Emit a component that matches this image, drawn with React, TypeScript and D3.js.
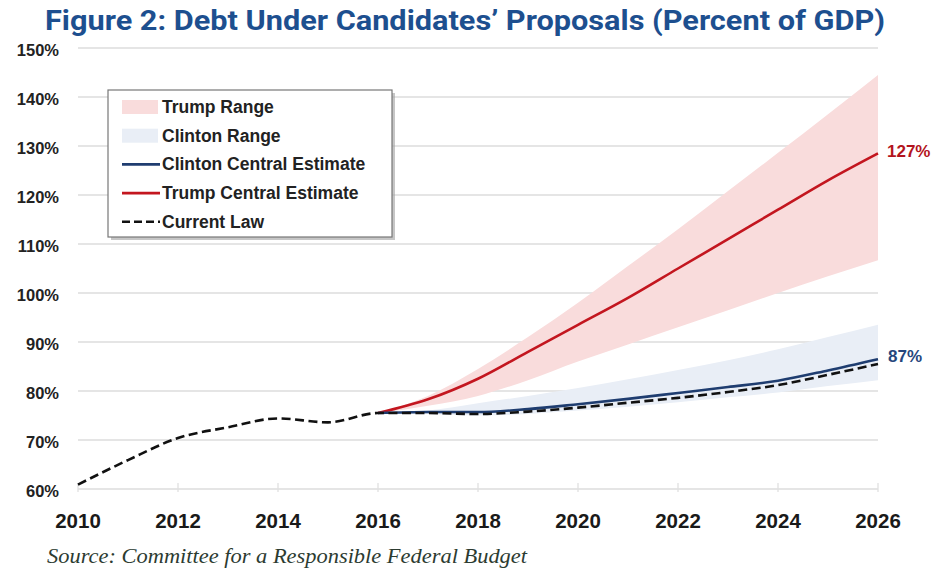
import React from "react";
import * as d3 from "d3";

const histYears = [2010, 2011, 2012, 2013, 2014, 2015, 2016];
const histDebt = [60.9, 65.9, 70.4, 72.6, 74.4, 73.6, 75.5];

const projYears = [2016, 2017, 2018, 2019, 2020, 2021, 2022, 2023, 2024, 2025, 2026];
const currentLaw = [75.5, 75.5, 75.3, 75.8, 76.6, 77.6, 78.6, 79.8, 81.2, 83.3, 85.5];
const clintonCentral = [75.5, 75.7, 75.7, 76.3, 77.3, 78.4, 79.6, 80.8, 82.1, 84.2, 86.5];
const clintonLow = [75.5, 75.3, 75.0, 75.3, 76.0, 76.8, 77.7, 78.7, 79.7, 81.0, 82.2];
const clintonHigh = [75.5, 76.0, 77.5, 79.0, 80.6, 82.4, 84.3, 86.3, 88.5, 91.0, 93.5];
const trumpCentral = [75.5, 78.3, 82.5, 88.0, 93.5, 99.0, 105.0, 111.0, 117.0, 123.0, 128.5];
const trumpLow = [75.5, 77.0, 79.0, 82.2, 86.0, 89.5, 93.0, 96.5, 100.0, 103.4, 106.7];
const trumpHigh = [75.5, 79.0, 84.5, 91.0, 98.0, 105.5, 113.0, 120.8, 128.6, 136.5, 144.5];

const xTicks = [2010, 2012, 2014, 2016, 2018, 2020, 2022, 2024, 2026];
const yTicks = [60, 70, 80, 90, 100, 110, 120, 130, 140, 150];

const legendItems = [
  { label: "Trump Range", kind: "band", color: "#f9dcdc" },
  { label: "Clinton Range", kind: "band", color: "#e9eef6" },
  { label: "Clinton Central Estimate", kind: "line", color: "#1f3d70" },
  { label: "Trump Central Estimate", kind: "line", color: "#c3161f" },
  { label: "Current Law", kind: "dash", color: "#111" },
];

const W = 936;
const H = 573;

export default function App() {
  const x = d3.scaleLinear().domain([2010, 2026]).range([78, 878]);
  const y = d3.scaleLinear().domain([60, 150]).range([489, 48]);

  const line = d3
    .line<[number, number]>()
    .x((d) => x(d[0]))
    .y((d) => y(d[1]))
    .curve(d3.curveMonotoneX);

  const area = d3
    .area<[number, number, number]>()
    .x((d) => x(d[0]))
    .y0((d) => y(d[1]))
    .y1((d) => y(d[2]))
    .curve(d3.curveMonotoneX);

  const zip2 = (a: number[], b: number[]) => a.map((v, i) => [v, b[i]] as [number, number]);
  const zip3 = (a: number[], b: number[], c: number[]) =>
    a.map((v, i) => [v, b[i], c[i]] as [number, number, number]);

  const dashedData = [...zip2(histYears, histDebt), ...zip2(projYears, currentLaw).slice(1)];

  const boldFont = "'Liberation Sans', Arial, sans-serif";

  return (
    <svg
      width={W}
      height={H}
      style={{ position: "absolute", left: 0, top: 0, background: "#fff" }}
    >
      <rect width={W} height={H} fill="#fff" />
      <text
        x={465}
        y={30}
        textAnchor="middle"
        fontFamily="Roboto, sans-serif"
        fontWeight={700}
        fontSize={27}
        fill="#1d4f8f"
        textLength={840}
        lengthAdjust="spacingAndGlyphs"
      >
        Figure 2: Debt Under Candidates’ Proposals (Percent of GDP)
      </text>

      {yTicks.map((t) => (
        <g key={t}>
          <line x1={78} x2={878} y1={y(t)} y2={y(t)} stroke="#dcdcdc" strokeWidth={1.5} />
          <text
            x={59}
            y={y(t) + 8}
            textAnchor="end"
            fontFamily={boldFont}
            fontWeight={700}
            fontSize={16.5}
            fill="#222"
          >
            {t}%
          </text>
        </g>
      ))}

      {xTicks.map((t) => (
        <g key={t}>
          <line x1={x(t)} x2={x(t)} y1={483} y2={492} stroke="#e0e0e0" strokeWidth={1.3} />
          <text
            x={x(t)}
            y={528}
            textAnchor="middle"
            fontFamily={boldFont}
            fontWeight={700}
            fontSize={20.5}
            fill="#1a1a1a"
          >
            {t}
          </text>
        </g>
      ))}

      <path d={area(zip3(projYears, trumpLow, trumpHigh)) || ""} fill="#f9dcdc" />
      <path d={area(zip3(projYears, clintonLow, clintonHigh)) || ""} fill="#e9eef6" />

      <path
        d={line(zip2(projYears, trumpCentral)) || ""}
        fill="none"
        stroke="#c3161f"
        strokeWidth={2.6}
      />
      <path
        d={line(zip2(projYears, clintonCentral)) || ""}
        fill="none"
        stroke="#1f3d70"
        strokeWidth={2.6}
      />
      <path
        d={line(dashedData) || ""}
        fill="none"
        stroke="#111"
        strokeWidth={2.6}
        strokeDasharray="9,4.5"
      />

      <text
        x={887}
        y={157}
        fontFamily={boldFont}
        fontWeight={700}
        fontSize={17}
        fill="#b3141d"
      >
        127%
      </text>
      <text
        x={888}
        y={362}
        fontFamily={boldFont}
        fontWeight={700}
        fontSize={17}
        fill="#26477d"
      >
        87%
      </text>

      <g>
        <rect x={111} y={93} width={284} height={147} fill="#a0a0a0" opacity={0.6} />
        <rect x={108} y={90} width={284} height={147} fill="#fff" stroke="#777" strokeWidth={1.2} />
        {legendItems.map((it, i) => {
          const cy = 107 + i * 28.7;
          return (
            <g key={it.label}>
              {it.kind === "band" && (
                <rect x={122} y={cy - 7} width={36} height={14} fill={it.color} />
              )}
              {it.kind === "line" && (
                <line x1={122} x2={160} y1={cy} y2={cy} stroke={it.color} strokeWidth={2.6} />
              )}
              {it.kind === "dash" && (
                <line
                  x1={122}
                  x2={160}
                  y1={cy}
                  y2={cy}
                  stroke={it.color}
                  strokeWidth={2.6}
                  strokeDasharray="8,4"
                />
              )}
              <text
                x={162}
                y={cy + 6}
                fontFamily={boldFont}
                fontWeight={700}
                fontSize={17.5}
                fill="#222"
              >
                {it.label}
              </text>
            </g>
          );
        })}
      </g>

      <text
        x={47}
        y={563}
        fontFamily="'Liberation Serif', 'DejaVu Serif', serif"
        fontStyle="italic"
        fontSize={20}
        fill="#2c3b31"
        textLength={480}
        lengthAdjust="spacingAndGlyphs"
      >
        Source: Committee for a Responsible Federal Budget
      </text>
    </svg>
  );
}
